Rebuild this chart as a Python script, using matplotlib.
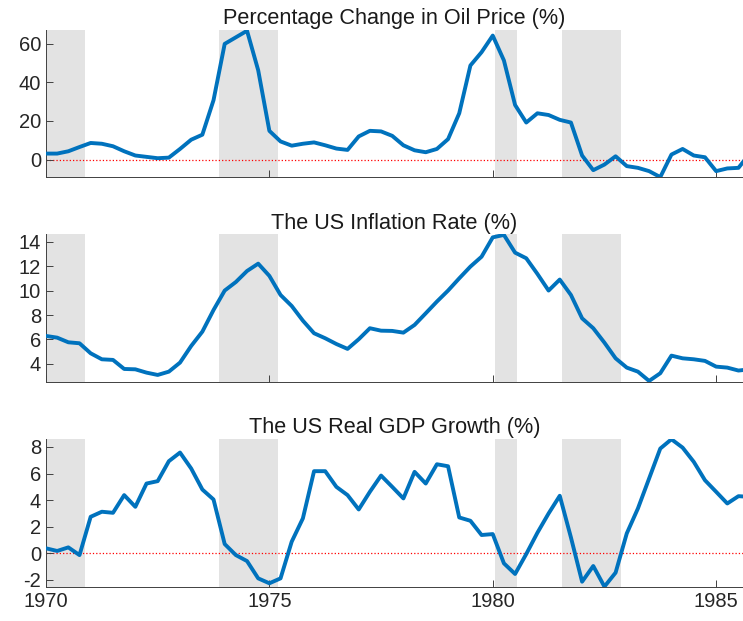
import numpy as np
import matplotlib
matplotlib.use("Agg")
import matplotlib.pyplot as plt

plt.rcParams['font.family'] = ['Liberation Sans', 'DejaVu Sans']
plt.rcParams['axes.unicode_minus'] = False

# Quarterly data, 1970Q1 onward
start_year = 1970
oil_change = [3.1, 3.1, 4.3, 6.5, 8.6, 8.2, 6.9, 4.3, 2.1, 1.4, 0.7, 1.0,
              5.5, 10.3, 12.9, 30.8, 60.0, 63.4, 66.8, 46.3, 14.9, 9.4, 7.2, 8.2,
              8.9, 7.4, 5.7, 5.0, 12.0, 14.9, 14.6, 12.3, 7.4, 4.8, 3.8, 5.5,
              10.6, 24.0, 48.8, 55.7, 64.3, 51.4, 28.3, 19.2, 24.0, 23.1, 20.6, 19.2,
              2.1, -5.5, -2.6, 1.7, -3.4, -4.3, -6.0, -9.1, 2.6, 5.5, 2.1, 1.2,
              -6.0, -4.6, -4.3, 3.0]
inflation = [6.29, 6.15, 5.77, 5.69, 4.87, 4.38, 4.33, 3.59, 3.56, 3.29, 3.10, 3.37,
             4.11, 5.47, 6.64, 8.41, 10.0, 10.7, 11.6, 12.2, 11.2, 9.64, 8.74, 7.54,
             6.51, 6.10, 5.63, 5.23, 6.02, 6.92, 6.72, 6.70, 6.56, 7.19, 8.14, 9.10,
             10.0, 11.0, 11.96, 12.77, 14.35, 14.55, 13.1, 12.64, 11.36, 10.0, 10.9, 9.64,
             7.73, 6.92, 5.74, 4.46, 3.70, 3.37, 2.61, 3.24, 4.68, 4.46, 4.38, 4.25,
             3.78, 3.70, 3.46, 3.56]
gdp_growth = [0.38, 0.18, 0.45, -0.13, 2.75, 3.13, 3.05, 4.38, 3.5, 5.25, 5.43, 6.93,
              7.58, 6.38, 4.8, 4.05, 0.7, -0.13, -0.58, -1.88, -2.25, -1.88, 0.88, 2.63,
              6.18, 6.18, 5.0, 4.38, 3.3, 4.63, 5.85, 5.0, 4.13, 6.13, 5.25, 6.7,
              6.55, 2.7, 2.45, 1.38, 1.45, -0.75, -1.55, -0.05, 1.55, 3.0, 4.33, 1.2,
              -2.13, -0.95, -2.5, -1.45, 1.5, 3.38, 5.63, 7.88, 8.58, 7.95, 6.88, 5.5,
              4.63, 3.75, 4.3, 4.25]

# NBER recessions (start, end) in decimal years
recessions = [(1969.9, 1970.87), (1973.87, 1975.19), (1980.04, 1980.54), (1981.54, 1982.88)]

titles = ['Percentage Change in Oil Price (%)', 'The US Inflation Rate (%)',
          'The US Real GDP Growth (%)']
series = [oil_change, inflation, gdp_growth]
ylims = [(-9.2, 67.2), (2.5, 14.6), (-2.55, 8.6)]
yticks = [[0, 20, 40, 60], [4, 6, 8, 10, 12, 14], [-2, 0, 2, 4, 6, 8]]
zero_line = [True, False, True]
rects = [[0.0619, 0.7145, 0.938, 0.2372],
         [0.0619, 0.3844, 0.938, 0.2383],
         [0.0619, 0.0543, 0.938, 0.2388]]

dates = start_year + np.arange(len(oil_change)) * 0.25

fig = plt.figure(figsize=(7.43, 6.21), dpi=100)

for k in range(3):
    ax = fig.add_axes(rects[k])
    for r0, r1 in recessions:
        ax.axvspan(r0, r1, color='#e3e3e3', lw=0, zorder=0)
    if zero_line[k]:
        ax.axhline(0, color='red', ls=':', lw=0.9, zorder=1)
    ax.plot(dates, series[k], color='#0072BD', lw=2.8, zorder=3)
    ax.set_xlim(1970, 1985.6)
    ax.set_ylim(*ylims[k])
    ax.set_yticks(yticks[k])
    ax.set_xticks([1970, 1975, 1980, 1985])
    if k < 2:
        ax.set_xticklabels([])
    ax.set_title(titles[k], fontsize=15.6, color='#1a1a1a', pad=4)
    for s in ['top', 'right']:
        ax.spines[s].set_visible(False)
    for s in ['left', 'bottom']:
        ax.spines[s].set_color('#404040')
        ax.spines[s].set_linewidth(0.7)
    ax.tick_params(direction='in', length=5, width=0.7, color='#404040',
                   labelsize=14.5, labelcolor='#262626')
    ax.set_facecolor('white')

fig.savefig('out.png', dpi=100)
